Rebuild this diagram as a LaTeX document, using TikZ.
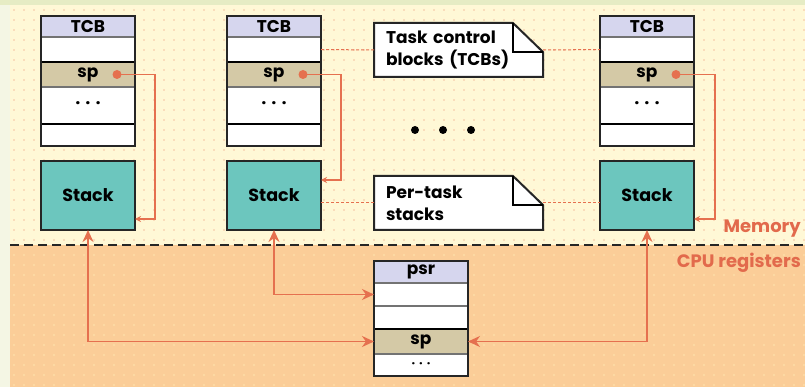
\documentclass[tikz,border=0pt]{standalone}
\usepackage{fontspec}
\setmainfont{Poppins}
\usetikzlibrary{calc,arrows.meta}
\pgfdeclarelayer{bg}
\pgfdeclarelayer{mid}
\pgfsetlayers{bg,mid,main}
\definecolor{hdr}{HTML}{D6D6EE}
\definecolor{sptan}{HTML}{D4C9A6}
\definecolor{teal}{HTML}{6CC6BE}
\definecolor{ybg}{HTML}{FFF8D6}
\definecolor{obg}{HTML}{FBCD98}
\definecolor{ydot}{HTML}{F6C0A0}
\definecolor{odot}{HTML}{FFE6B0}
\definecolor{redl}{HTML}{E5704F}
\definecolor{redt}{HTML}{E26A4C}
\definecolor{topg}{HTML}{E6ECC4}
\definecolor{edge}{HTML}{F4F6E4}
\begin{document}
\begin{tikzpicture}[x=1pt,y=-1pt,
  cell/.style={anchor=north west,inner sep=0pt,outer sep=0pt,minimum width=94pt,
    font=\bfseries\fontsize{17}{17}\selectfont},
  stackbox/.style={anchor=north west,inner sep=0pt,outer sep=0pt,minimum width=94pt,
    minimum height=69pt,fill=teal,draw=black!85,line width=2pt,
    font=\bfseries\fontsize{17.5}{17.5}\selectfont},
  boxborder/.style={draw=black!85,line width=2pt},
  sepblack/.style={draw=black,line width=1.6pt},
  sepgray/.style={draw=black!55,line width=2.2pt},
  callout/.style={anchor=north west,inner xsep=12pt,inner ysep=0pt,outer sep=0pt,
    minimum width=169pt,minimum height=54pt,text width=145pt,align=left,
    font=\bfseries\fontsize{17}{22}\selectfont},
  conn/.style={draw=redl,line width=1pt,dash pattern=on 3pt off 2pt},
  ptrline/.style={draw=redl,line width=1.2pt,-{Stealth[length=6pt,width=6pt]}},
  regarrow/.style={draw=redl,line width=1.6pt,
    {Stealth[length=12pt,width=11pt]}-{Stealth[length=12pt,width=11pt]}},
  bigdot/.style={circle,fill=black,inner sep=0pt,minimum size=8pt},
  lbl/.style={anchor=east,text=redt,inner sep=0pt,font=\bfseries\fontsize{18}{18}\selectfont},
]
\useasboundingbox (0,0) rectangle (805,387);
% background
\begin{pgfonlayer}{bg}
  \fill[edge] (0,0) rectangle (805,387);
  \fill[topg] (0,0) rectangle (805,5);
  \fill[ybg] (10,5) rectangle (805,245);
  \fill[obg] (10,245) rectangle (805,387);
  \foreach \yy in {10,20,...,240}{\foreach \xx in {14,24,...,804}{\fill[ydot] (\xx,\yy) circle (0.9pt);}}
  \foreach \yy in {255,265,...,385}{\foreach \xx in {14,24,...,804}{\fill[odot] (\xx,\yy) circle (0.9pt);}}
\end{pgfonlayer}
\draw[black!85,line width=2.4pt,dash pattern=on 9pt off 5pt] (10,245) -- (805,245);

% TCBs and stacks
\foreach \i/\x in {1/41,2/227,3/600}{
  \node[cell,fill=hdr,minimum height=21pt] (T\i-h) at (\x,16) {TCB};
  \node[cell,fill=white,minimum height=25pt] (T\i-a) at (T\i-h.south west) {};
  \node[cell,fill=sptan,minimum height=25pt] (T\i-s) at (T\i-a.south west) {sp};
  \node[cell,fill=white,minimum height=37pt] (T\i-d) at (T\i-s.south west) {·\hspace{5pt}·\hspace{5pt}·};
  \node[cell,fill=white,minimum height=22pt] (T\i-l) at (T\i-d.south west) {};
  \draw[sepgray] (T\i-h.south west) -- (T\i-h.south east);
  \draw[sepblack] (T\i-a.south west) -- (T\i-a.south east);
  \draw[sepgray] (T\i-s.south west) -- (T\i-s.south east);
  \draw[sepblack] (T\i-d.south west) -- (T\i-d.south east);
  \draw[boxborder] (T\i-h.north west) rectangle (T\i-l.south east);
  \node[stackbox] (S\i) at (\x,161) {Stack};
  \coordinate (C\i) at ($(T\i-s.east)+(-18,0)$);
  \fill[redl] (C\i) circle (4.5pt);
}
% pointer links TCB sp -> stack
\coordinate (P1) at (155,219);
\coordinate (P2) at (341,180);
\coordinate (P3) at (715,219);
\foreach \i in {1,2,3}{
  \draw[ptrline] (C\i) -| (P\i) -- (P\i -| S\i.east);
}

% callouts
\node[callout] (K1) at (374,23) {Task control\\blocks (TCBs)};
\node[callout] (K2) at (374,176) {Per-task\\stacks};
\begin{pgfonlayer}{mid}
\foreach \k in {K1,K2}{
  \filldraw[fill=white,boxborder,line join=miter]
    (\k.south west) -- (\k.north west) -- ($(\k.north east)+(-30,0)$)
    -- ($(\k.north east)+(0,29)$) -- (\k.south east) -- cycle;
  \draw[black,line width=1.4pt] ($(\k.north east)+(-30,0)$) -- ($(\k.north east)+(-30,29)$)
    -- ($(\k.north east)+(0,29)$);
}
\end{pgfonlayer}
\draw[conn] (T2-a.east) -- (K1.west);
\draw[conn] (K1.east) -- (T3-a.west);
\draw[conn] (K2.west -| S2.east) -- (K2.west);
\draw[conn] (K2.east) -- (K2.east -| S3.west);

% ellipsis
\node[bigdot] (E1) at (415,130) {};
\node[bigdot] (E2) at (443,130) {};
\node[bigdot] (E3) at (471,130) {};

% CPU registers block
\node[cell,fill=hdr,minimum height=22pt] (R-h) at (374,261) {psr};
\node[cell,fill=white,minimum height=23pt] (R-a) at (R-h.south west) {};
\node[cell,fill=white,minimum height=23pt] (R-b) at (R-a.south west) {};
\node[cell,fill=sptan,minimum height=25pt] (R-s) at (R-b.south west) {sp};
\node[cell,fill=white,minimum height=22pt] (R-d) at (R-s.south west) {\fontsize{12}{12}\selectfont ·\hspace{4pt}·\hspace{4pt}·};
\draw[sepgray] (R-h.south west) -- (R-h.south east);
\draw[sepgray] (R-a.south west) -- (R-a.south east);
\draw[sepblack] (R-b.south west) -- (R-b.south east);
\draw[sepgray] (R-s.south west) -- (R-s.south east);
\draw[boxborder] (R-h.north west) rectangle (R-d.south east);

% stack <-> register arrows
\draw[regarrow] (S1.south) |- (R-s.west);
\draw[regarrow] (S2.south) |- (R-a.west);
\draw[regarrow] (S3.south) |- (R-s.east);

% region labels
\node[lbl] (MEM) at (801,229) {Memory};
\node[lbl] (CPU) at (801,263) {CPU registers};
\end{tikzpicture}
\end{document}
